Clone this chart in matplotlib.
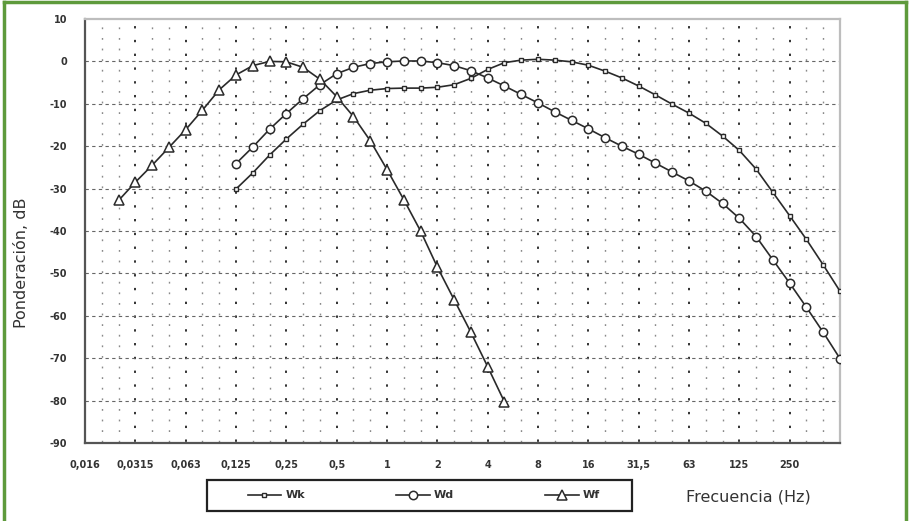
import matplotlib
matplotlib.use("Agg")
import numpy as np
from matplotlib import pyplot as plt
from matplotlib.patches import Rectangle

plt.rcParams["axes.unicode_minus"] = False

# third-octave band positions (chart category index) and labels every octave
tick_pos = [0, 3, 6, 9, 12, 15, 18, 21, 24, 27, 30, 33, 36, 39, 42]
tick_labels = ["0,016", "0,0315", "0,063", "0,125", "0,25", "0,5", "1", "2",
               "4", "8", "16", "31,5", "63", "125", "250"]

# Wk: vertical weighting, bands 9..45
wk_x = list(range(9, 46))
wk_db = [-30.1, -26.3, -22.1, -18.3, -14.8, -11.6, -9.1, -7.6, -6.8, -6.4,
         -6.3, -6.3, -6.1, -5.5, -4.0, -1.9, -0.3, 0.3, 0.5, 0.3,
         -0.1, -0.9, -2.3, -3.9, -5.8, -7.9, -10.1, -12.2, -14.6, -17.6,
         -21.0, -25.4, -30.9, -36.4, -42.0, -48.0, -54.2]

# Wd: horizontal weighting, bands 9..45
wd_x = list(range(9, 46))
wd_db = [-24.1, -20.2, -16.0, -12.3, -8.8, -5.5, -2.9, -1.4, -0.5, -0.1,
         0.1, 0.1, -0.3, -1.0, -2.2, -3.9, -5.8, -7.8, -9.8, -11.9,
         -13.9, -15.9, -18.0, -20.0, -21.9, -24.0, -26.1, -28.2, -30.6, -33.5,
         -37.0, -41.3, -46.8, -52.3, -58.0, -63.9, -70.1]

# Wf: motion sickness weighting, bands 2..25
wf_x = list(range(2, 26))
wf_db = [-32.8, -28.5, -24.5, -20.3, -16.1, -11.5, -6.7, -3.2, -1.0, 0.0,
         -0.1, -1.4, -4.2, -8.3, -13.0, -18.7, -25.5, -32.6, -40.0, -48.5,
         -56.2, -63.9, -72.0, -80.3]

W, H = 909, 521
fig = plt.figure(figsize=(W / 100, H / 100), dpi=100)
fig.patch.set_facecolor("white")

# plot area in pixels: left 85, right 840, top 19, bottom 443
ax = fig.add_axes([85 / W, 1 - 443 / H, (840 - 85) / W, (443 - 19) / H])
ax.set_xlim(0, 45)
ax.set_ylim(-90, 10)

# dotted vertical grid (one column per band), darker on octave bands
px_per_db = 424 / 100
period = 2.5 * px_per_db * 0.72
on = 1.3
for i in range(1, 45):
    dark = i % 3 == 0
    ax.plot([i, i], [-90, 10], color="#222222" if dark else "#8a8a8a",
            lw=1.3 if dark else 1.0,
            linestyle=(period - on / 2, (on, period - on)), zorder=1)
# dashed horizontal grid every 10 dB
for y in range(-80, 10, 10):
    ax.axhline(y, color="#666666", lw=0.8, linestyle=(0, (3, 3)), zorder=1)

line_kw = dict(color="#2a2a2a", lw=1.2, markerfacecolor="white",
               markeredgecolor="#2a2a2a", zorder=3)
ax.plot(wk_x, wk_db, marker="s", ms=3.5, mew=1.0, label="Wk", **line_kw)
ax.plot(wd_x, wd_db, marker="o", ms=6, mew=1.1, label="Wd", **line_kw)
ax.plot(wf_x, wf_db, marker="^", ms=6.5, mew=1.1, label="Wf", **line_kw)

ax.set_xticks(tick_pos)
ax.set_xticklabels(tick_labels)
ax.set_yticks(range(-90, 11, 10))
ax.tick_params(axis="both", length=0, labelsize=7, colors="#333333")
ax.tick_params(axis="x", pad=12)
ax.tick_params(axis="y", pad=13)
for lab in ax.get_xticklabels() + ax.get_yticklabels():
    lab.set_fontweight("bold")

for side in ["left", "bottom"]:
    ax.spines[side].set_color("#555555")
    ax.spines[side].set_linewidth(1.6)
for side in ["top", "right"]:
    ax.spines[side].set_color("#bdbdbd")
    ax.spines[side].set_linewidth(1.6)

fig.text(22 / W, 1 - 263 / H, "Ponderación, dB", rotation=90, ha="center",
         va="center", fontsize=11.5, color="#333333")
fig.text(748 / W, 1 - 497 / H, "Frecuencia (Hz)", ha="center", va="center",
         fontsize=11.5, color="#333333")

# legend box drawn separately, entries spread inside it
fig.add_artist(Rectangle((207 / W, 1 - 511 / H), 425 / W, 31 / H,
                         transform=fig.transFigure, facecolor="white",
                         edgecolor="#222222", lw=1.6, zorder=2))
leg = fig.legend(loc="center", ncol=3, bbox_to_anchor=(424 / W, 1 - 495.5 / H),
                 frameon=False, handlelength=3.0, handletextpad=0.4,
                 columnspacing=8.2, prop=dict(size=8, weight="bold"))
leg.set_zorder(3)
for t in leg.get_texts():
    t.set_color("#333333")

# green frame round the figure
green = "#5e9a3c"
fig.add_artist(plt.Line2D([4 / W, 4 / W], [0, 1 - 2 / H], transform=fig.transFigure, color=green, lw=2.5))
fig.add_artist(plt.Line2D([4 / W, 906 / W], [1 - 2 / H, 1 - 2 / H], transform=fig.transFigure, color=green, lw=2.5))
fig.add_artist(plt.Line2D([906 / W, 906 / W], [0, 1 - 2 / H], transform=fig.transFigure, color=green, lw=2.5))

fig.savefig("out.png", dpi=100, facecolor="white")
